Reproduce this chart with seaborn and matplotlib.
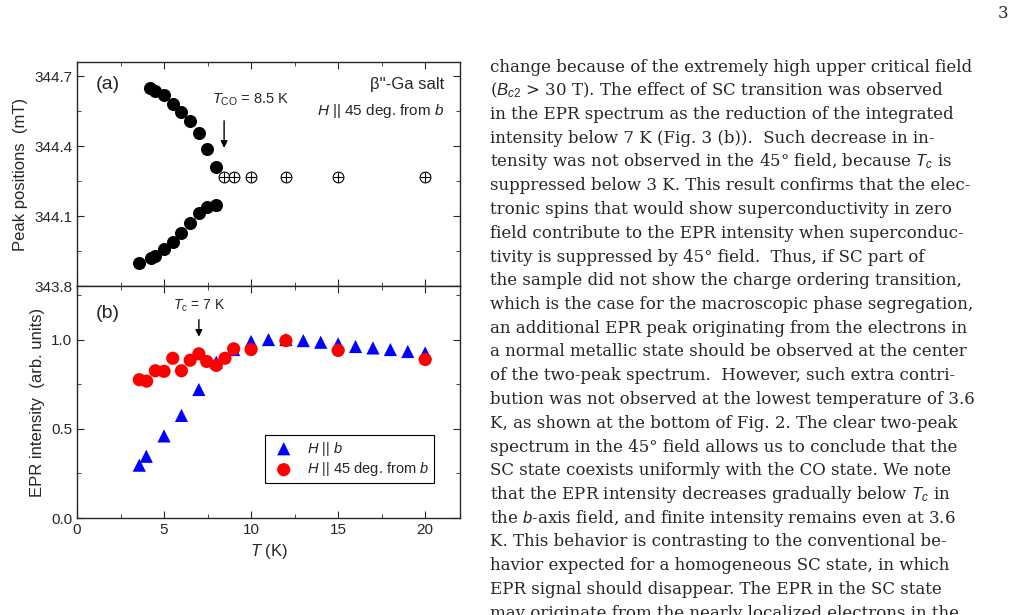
import numpy as np
import matplotlib
matplotlib.use("Agg")
import matplotlib.pyplot as plt
import seaborn as sns
from matplotlib.ticker import MultipleLocator

sns.set_style("ticks")
plt.rcParams['font.family'] = ['Liberation Sans', 'DejaVu Sans']
plt.rcParams['mathtext.fontset'] = 'custom'
plt.rcParams['mathtext.it'] = 'Liberation Sans:italic'
plt.rcParams['mathtext.rm'] = 'Liberation Sans'

# panel (a): peak positions
t_hi = [4.2, 4.48, 5.0, 5.5, 6.0, 6.5, 7.0, 7.45, 7.97]
p_hi = [344.647, 344.636, 344.62, 344.58, 344.547, 344.507, 344.457, 344.387, 344.308]
t_lo = [3.58, 4.25, 4.5, 5.0, 5.5, 6.0, 6.5, 7.0, 7.45, 8.0]
p_lo = [343.90, 343.918, 343.928, 343.958, 343.989, 344.027, 344.068, 344.115, 344.139, 344.146]
t_one = [8.45, 9.0, 10.0, 12.0, 15.0, 20.0]
p_one = [344.268, 344.268, 344.268, 344.268, 344.268, 344.268]

# panel (b): EPR intensity
t_b = [3.58, 3.98, 5.0, 6.0, 7.0, 8.0, 9.0, 10.0, 11.0, 12.0, 13.0, 14.0, 15.0, 16.0, 17.0, 18.0, 19.0, 20.0]
i_b = [0.296, 0.346, 0.46, 0.575, 0.72, 0.873, 0.944, 0.989, 1.0, 1.0, 0.994, 0.985, 0.976, 0.961, 0.953, 0.944, 0.933, 0.925]
t_45 = [3.58, 4.0, 4.5, 5.0, 5.5, 6.0, 6.5, 7.0, 7.45, 8.0, 8.5, 9.0, 10.0, 12.0, 15.0, 20.0]
i_45 = [0.775, 0.767, 0.825, 0.822, 0.895, 0.825, 0.884, 0.92, 0.877, 0.855, 0.895, 0.948, 0.944, 0.994, 0.939, 0.888]

W, H = 1012, 615
fig = plt.figure(figsize=(W / 100, H / 100), dpi=100)
L, R = 77 / W, 460 / W
axa = fig.add_axes([L, 1 - 286 / H, R - L, (286 - 62) / H])
axb = fig.add_axes([L, 1 - 518 / H, R - L, (518 - 286) / H])

axa.scatter(t_hi, p_hi, s=70, color='black', zorder=3)
axa.scatter(t_lo, p_lo, s=70, color='black', zorder=3)
axa.errorbar([8.0], [344.146], yerr=0.02, fmt='none', ecolor='black', capsize=3, lw=1)
axa.scatter(t_one, p_one, s=60, facecolor='white', edgecolor='black', lw=0.8, zorder=3)
axa.scatter(t_one, p_one, s=60, marker='+', color='black', lw=0.8, zorder=4)
axa.set_ylim(343.8, 344.76)
axa.yaxis.set_major_locator(MultipleLocator(0.3))
axa.yaxis.set_minor_locator(MultipleLocator(0.15))
axa.set_ylabel('Peak positions  (mT)', fontsize=12)
axa.text(0.05, 0.9, '(a)', transform=axa.transAxes, fontsize=14, va='center')
axa.text(0.96, 0.9, "β''-Ga salt", transform=axa.transAxes, fontsize=12, ha='right', va='center')
axa.text(0.96, 0.78, r"$H$ || 45 deg. from $b$", transform=axa.transAxes, fontsize=11, ha='right', va='center')
axa.text(7.75, 344.6, r"$T_{\rm CO}$ = 8.5 K", fontsize=10.5, va='center')
axa.annotate("", xy=(8.45, 344.38), xytext=(8.45, 344.52),
             arrowprops=dict(arrowstyle='-|>', color='black', lw=1))

sns.scatterplot(x=t_b, y=i_b, marker='^', s=90, color='blue', edgecolor='none',
                ax=axb, label=r'$H$ || $b$', zorder=3)
sns.scatterplot(x=t_45, y=i_45, marker='o', s=90, color='red', edgecolor='none',
                ax=axb, label=r'$H$ || 45 deg. from $b$', zorder=3)
axb.set_ylim(0, 1.3)
axb.yaxis.set_major_locator(MultipleLocator(0.5))
axb.yaxis.set_minor_locator(MultipleLocator(0.25))
axb.set_ylabel('EPR intensity  (arb. units)', fontsize=12)
axb.set_xlabel(r'$T$ (K)', fontsize=12)
axb.text(0.05, 0.88, '(b)', transform=axb.transAxes, fontsize=14, va='center')
axb.annotate(r"$T_{\rm c}$ = 7 K", xy=(7.0, 1.0), xytext=(7.0, 1.17),
             ha='center', fontsize=10, arrowprops=dict(arrowstyle='-|>', color='black', lw=1))
leg = axb.legend(loc='lower right', bbox_to_anchor=(0.95, 0.12), fontsize=10.5,
                 fancybox=False, framealpha=1, edgecolor='black', handletextpad=0.6,
                 borderpad=0.3, labelspacing=0.2)
leg.get_frame().set_linewidth(0.8)

for ax in (axa, axb):
    ax.set_xlim(0, 22)
    ax.xaxis.set_major_locator(MultipleLocator(5))
    ax.xaxis.set_minor_locator(MultipleLocator(2.5))
    ax.tick_params(which='both', direction='in', top=True, right=True, labelsize=11)
    ax.tick_params(which='major', length=5)
    ax.tick_params(which='minor', length=3)
    for s in ax.spines.values():
        s.set_linewidth(1)
axa.tick_params(labelbottom=False)
fig.align_ylabels([axa, axb])

# right-hand text column
lines = [
    "change because of the extremely high upper critical field",
    r"($B_{c2}$ > 30 T). The effect of SC transition was observed",
    "in the EPR spectrum as the reduction of the integrated",
    "intensity below 7 K (Fig. 3 (b)).  Such decrease in in-",
    r"tensity was not observed in the 45° field, because $T_c$ is",
    "suppressed below 3 K. This result confirms that the elec-",
    "tronic spins that would show superconductivity in zero",
    "field contribute to the EPR intensity when superconduc-",
    "tivity is suppressed by 45° field.  Thus, if SC part of",
    "the sample did not show the charge ordering transition,",
    "which is the case for the macroscopic phase segregation,",
    "an additional EPR peak originating from the electrons in",
    "a normal metallic state should be observed at the center",
    "of the two-peak spectrum.  However, such extra contri-",
    "bution was not observed at the lowest temperature of 3.6",
    "K, as shown at the bottom of Fig. 2. The clear two-peak",
    "spectrum in the 45° field allows us to conclude that the",
    "SC state coexists uniformly with the CO state. We note",
    r"that the EPR intensity decreases gradually below $T_c$ in",
    r"the $b$-axis field, and finite intensity remains even at 3.6",
    "K. This behavior is contrasting to the conventional be-",
    "havior expected for a homogeneous SC state, in which",
    "EPR signal should disappear. The EPR in the SC state",
    "may originate from the nearly localized electrons in the",
]
serif = {'family': ['DejaVu Serif'], 'fontsize': 12.0}
for k, line in enumerate(lines):
    y = 67 + k * 23.75
    fig.text(490 / W, 1 - y / H, line.replace('$T_c$', '$\\mathit{T_c}$'), va='center', **serif)
fig.text(998 / W, 1 - 13 / H, '3', va='center', **serif)

fig.savefig('out.png', dpi=100)
